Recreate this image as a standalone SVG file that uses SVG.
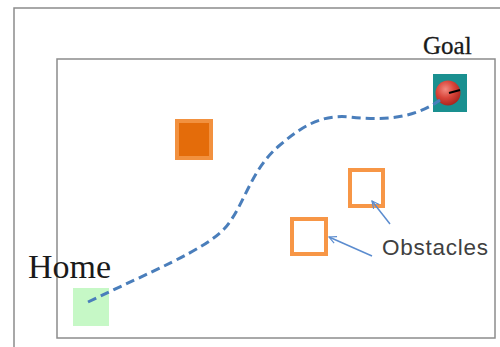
<svg xmlns="http://www.w3.org/2000/svg" width="500" height="347" viewBox="0 0 500 347">
  <defs>
    <style>
      .frame { fill: none; stroke: #8c8c8c; stroke-width: 1.5; }
      .obst { fill: #ffffff; stroke: #f79646; stroke-width: 4; }
      .path { fill: none; stroke: #4a7ebb; stroke-width: 3; stroke-dasharray: 9 5; }
      .lead { fill: none; stroke: #5b8ccf; stroke-width: 1.5; }
      .serif { font-family: "Liberation Serif", "Times New Roman", serif; fill: #1a1a1a; }
      .sans { font-family: "Liberation Sans", Arial, sans-serif; fill: #404040; }
    </style>
    <radialGradient id="ball" cx="0.4" cy="0.35" r="0.7">
      <stop offset="0" stop-color="#f28a80"/>
      <stop offset="0.5" stop-color="#d9453a"/>
      <stop offset="1" stop-color="#a5221b"/>
    </radialGradient>
    <marker id="arr" viewBox="0 0 10 10" refX="9" refY="5" markerWidth="9" markerHeight="9" orient="auto" markerUnits="userSpaceOnUse">
      <path d="M1,1 L9,5 L1,9" fill="none" stroke="#5b8ccf" stroke-width="1.3"/>
    </marker>
  </defs>
  <rect width="500" height="347" fill="#ffffff"/>
  <rect class="frame" x="14" y="8" width="520" height="400"/>
  <rect class="frame" x="57" y="59" width="438" height="279"/>

  <g id="home">
    <rect x="73" y="288" width="36" height="38" fill="#c6f8c6"/>
    <text class="serif" x="28" y="278" font-size="34">Home</text>
  </g>

  <g id="goal">
    <rect x="433" y="74" width="34" height="38" fill="#1a9090"/>
    <circle cx="448" cy="93" r="12.5" fill="url(#ball)"/>
    <line x1="449" y1="93" x2="460" y2="90" stroke="#000000" stroke-width="2"/>
    <text class="serif" x="423" y="54" font-size="25" stroke="#1a1a1a" stroke-width="0.3">Goal</text>
  </g>

  <g id="block">
    <rect x="177" y="121" width="34" height="37" fill="#e46c0a" stroke="#f2913f" stroke-width="4"/>
  </g>

  <g id="obstacle1">
    <rect class="obst" x="350" y="170" width="33" height="36"/>
  </g>
  <g id="obstacle2">
    <rect class="obst" x="292" y="219" width="34" height="35"/>
  </g>

  <g id="obstacles-label">
    <text class="sans" x="382" y="255" font-size="22.5" textLength="106">Obstacles</text>
  </g>

  <g id="connectors">
    <path class="path" d="M88,302 C150,272 205,250 225,228 C245,205 250,170 280,145 C300,128 320,114 350,117 C385,121 415,118 440,100"/>
    <line class="lead" x1="390" y1="224" x2="372" y2="201" marker-end="url(#arr)"/>
    <line class="lead" x1="372" y1="256" x2="329" y2="237" marker-end="url(#arr)"/>
  </g>
</svg>
